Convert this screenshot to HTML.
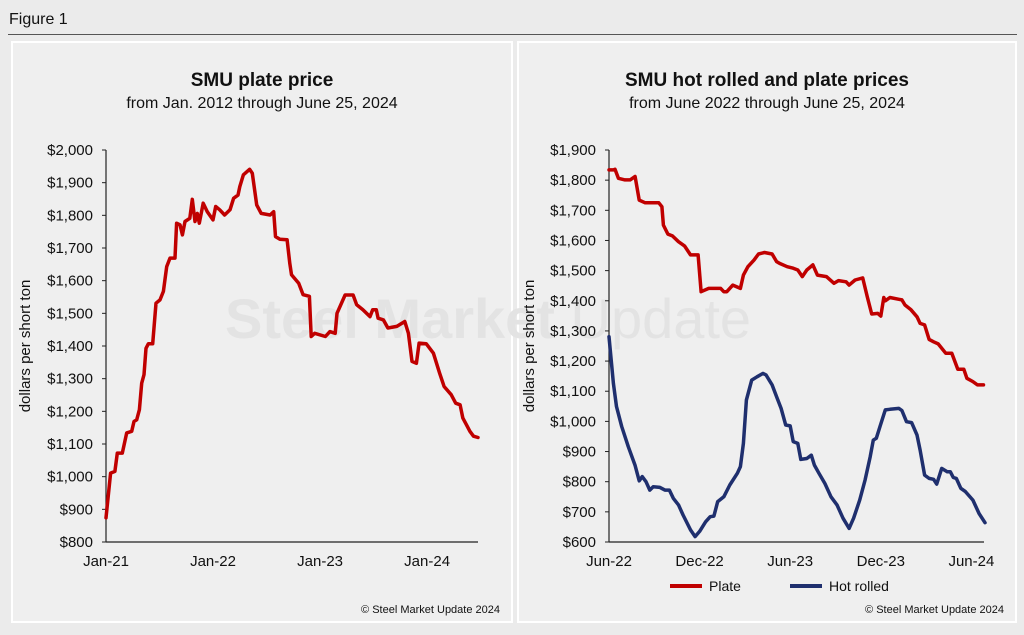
<!DOCTYPE html>
<html><head><meta charset="utf-8">
<style>
html,body{margin:0;padding:0;background:#ebebeb;}
body{width:1024px;height:630px;overflow:hidden;font-family:"Liberation Sans",Arial,sans-serif;}
svg text{font-family:"Liberation Sans",Arial,sans-serif;}
</style></head>
<body>
<svg id="fig" width="1024" height="630" viewBox="0 0 1024 630">
  <rect x="0" y="0" width="1024" height="630" fill="#ebebeb"/>
  <text x="9" y="24" font-size="16" fill="#111">Figure 1</text>
  <line x1="8" y1="34.5" x2="1017" y2="34.5" stroke="#555" stroke-width="1"/>
  <rect x="12" y="42" width="500" height="580" fill="#efefef" stroke="#fff" stroke-width="2"/>
  <rect x="518" y="42" width="498" height="580" fill="#efefef" stroke="#fff" stroke-width="2"/>
  <text x="225" y="338" font-size="56" font-weight="bold" fill="#e3e3e3">Steel Market <tspan font-weight="normal">Update</tspan></text>
  <text x="262" y="86" text-anchor="middle" font-size="19" font-weight="bold" fill="#111">SMU plate price</text>
  <text x="262" y="108" text-anchor="middle" font-size="16" fill="#111">from Jan. 2012 through June 25, 2024</text>
  <text x="767" y="86" text-anchor="middle" font-size="19" font-weight="bold" fill="#111">SMU hot rolled and plate prices</text>
  <text x="767" y="108" text-anchor="middle" font-size="16" fill="#111">from June 2022 through June 25, 2024</text>
  <text transform="translate(30,346) rotate(-90)" text-anchor="middle" font-size="15" fill="#111">dollars per short ton</text>
  <text transform="translate(534,346) rotate(-90)" text-anchor="middle" font-size="15" fill="#111">dollars per short ton</text>
  <text x="500" y="613" text-anchor="end" font-size="11" fill="#111">© Steel Market Update 2024</text>
  <text x="1004" y="613" text-anchor="end" font-size="11" fill="#111">© Steel Market Update 2024</text>
  <g>
    <line x1="670" y1="586" x2="702" y2="586" stroke="#c00000" stroke-width="4"/>
    <text x="709" y="591" font-size="14" fill="#111">Plate</text>
    <line x1="790" y1="586" x2="822" y2="586" stroke="#1f2f6e" stroke-width="4"/>
    <text x="829" y="591" font-size="14" fill="#111">Hot rolled</text>
  </g>
  <g id="left"></g>
  <g id="right"></g>
</svg>
<script>
// Left chart data (months since Jan-21, $/ton)
const leftMonths=[0,0.52,1.0,1.27,1.83,2.32,2.88,3.14,3.44,3.74,4.0,4.26,4.48,4.75,5.23,5.6,6.05,6.43,6.8,7.17,7.73,7.92,8.3,8.56,8.86,9.4,9.68,9.98,10.24,10.46,10.9,11.36,12.0,12.3,12.75,13.3,13.9,14.3,14.8,15.0,15.4,16.1,16.4,16.9,17.4,18.4,18.8,19.0,19.5,20.3,20.6,20.8,21.6,22.1,22.8,23.0,23.4,24.6,25.1,25.7,25.9,26.8,27.7,28.1,28.8,29.6,29.9,30.3,30.5,31.1,31.6,32.6,33.5,33.9,34.3,34.8,35.1,35.9,36.7,37.4,37.9,38.7,39.2,39.7,40.0,40.4,40.8,41.2,41.7];
const leftPlate=[874,1011,1016,1072,1072,1134,1139,1169,1174,1205,1286,1312,1393,1407,1407,1531,1541,1567,1643,1669,1669,1776,1771,1740,1781,1791,1849,1781,1806,1776,1837,1811,1786,1827,1817,1801,1817,1852,1862,1888,1924,1941,1929,1832,1806,1801,1811,1735,1727,1725,1653,1618,1592,1557,1552,1429,1439,1429,1444,1439,1500,1556,1556,1526,1511,1490,1511,1511,1485,1480,1455,1460,1475,1439,1353,1347,1409,1407,1378,1317,1276,1251,1225,1220,1180,1159,1139,1124,1120];
const leftYTicks=[800,900,1000,1100,1200,1300,1400,1500,1600,1700,1800,1900,2000];
const leftXLabels=["Jan-21","Jan-22","Jan-23","Jan-24"];
const leftXTickMonths=[0,12,24,36];
// Right chart data (months since Jun-22)
const plateMonths=[0,0.29,0.4,0.62,1.06,1.4,1.73,2.0,2.4,3.3,3.5,3.6,3.9,4.2,4.6,5.0,5.4,5.9,6.1,6.6,7.4,7.6,7.8,8.2,8.7,8.9,9.2,9.6,9.9,10.3,10.8,11.1,11.3,11.8,12.2,12.5,12.8,13.1,13.5,13.8,14.4,14.9,15.2,15.7,15.9,16.3,16.8,17.1,17.4,17.8,18.0,18.2,18.3,18.6,19.2,19.4,19.6,20.0,20.4,20.6,20.9,21.2,21.5,21.8,22.3,22.7,23.1,23.5,23.7,24.1,24.4,24.8];
const plateValues=[1834,1834,1836,1806,1801,1801,1812,1734,1725,1725,1712,1651,1621,1615,1596,1582,1552,1552,1430,1441,1441,1430,1430,1452,1441,1485,1513,1535,1555,1560,1555,1530,1524,1513,1508,1502,1480,1502,1519,1485,1480,1458,1467,1463,1452,1469,1476,1414,1356,1358,1349,1411,1400,1411,1405,1403,1386,1370,1347,1325,1320,1272,1264,1257,1226,1226,1173,1173,1143,1132,1121,1121];
const hrMonths=[0,0.29,0.5,0.84,1.28,1.72,2.0,2.2,2.45,2.7,2.93,3.37,3.7,4.0,4.26,4.6,4.9,5.4,5.7,6.0,6.4,6.7,6.95,7.2,7.6,8.0,8.5,8.7,8.9,9.1,9.45,9.8,10.2,10.4,10.8,11.1,11.4,11.7,12.0,12.2,12.5,12.7,13.1,13.4,13.6,13.9,14.3,14.7,15.1,15.5,15.9,16.2,16.6,16.96,17.3,17.5,17.7,17.95,18.3,18.6,19.2,19.4,19.7,20.04,20.4,20.6,20.9,21.2,21.5,21.7,22.03,22.4,22.6,22.8,23.0,23.3,23.6,24.1,24.5,24.9];
const hrValues=[1281,1126,1049,983,916,855,803,817,800,772,783,781,772,772,745,723,690,640,618,635,667,684,686,734,750,789,828,850,927,1071,1137,1148,1159,1154,1121,1082,1043,988,985,933,927,874,877,888,855,828,794,750,723,679,645,679,739,806,883,938,944,983,1038,1040,1043,1036,999,996,955,905,822,811,808,792,844,833,833,814,811,778,767,739,695,664];
const rightYTicks=[600,700,800,900,1000,1100,1200,1300,1400,1500,1600,1700,1800,1900];
const rightXLabels=["Jun-22","Dec-22","Jun-23","Dec-23","Jun-24"];
const rightXTickMonths=[0,6,12,18,24];

const NS="http://www.w3.org/2000/svg";
function mk(tag,attrs,parent){const e=document.createElementNS(NS,tag);for(const k in attrs)e.setAttribute(k,attrs[k]);parent.appendChild(e);return e;}
function fmt(v){return "$"+v.toLocaleString("en-US");}

function drawChart(g,cfg){
  const x=m=>cfg.x0+m*cfg.pxPerMonth;
  const y=v=>cfg.yBot-(v-cfg.vMin)/(cfg.vMax-cfg.vMin)*(cfg.yBot-cfg.yTop);
  const yAxis=mk("line",{x1:cfg.x0,y1:cfg.yTop,x2:cfg.x0,y2:cfg.yBot,stroke:"#222","stroke-width":1.2},g);
  
  
  const xAxis=mk("line",{x1:cfg.x0,y1:cfg.yBot,x2:cfg.xEnd,y2:cfg.yBot,stroke:"#222","stroke-width":1.2},g);
  
  
  cfg.yTicks.forEach(v=>{
    mk("line",{x1:cfg.x0-4,y1:y(v),x2:cfg.x0,y2:y(v),stroke:"#222","stroke-width":1},g);
    const t=mk("text",{x:cfg.x0-13,y:y(v)+5,"text-anchor":"end","font-size":15,fill:"#111"},g);
    t.textContent=fmt(v);
    
    
  });
  cfg.xLabels.forEach((lab,i)=>{
    const t=mk("text",{x:x(cfg.xTickMonths[i]),y:cfg.yBot+24,"text-anchor":"middle","font-size":15,fill:"#111"},g);
    t.textContent=lab;
    
    
  });
  cfg.series.forEach(s=>{
    const d=s.months.map((m,i)=>(i?"L":"M")+x(m).toFixed(1)+","+y(s.values[i]).toFixed(1)).join("");
    const p=mk("path",{d:d,fill:"none",stroke:s.color,"stroke-width":3.5,"stroke-linejoin":"round","stroke-linecap":"round"},g);
    
    
  });
}
drawChart(document.getElementById("left"),{x0:106,xEnd:478,pxPerMonth:8.92,yTop:150,yBot:542,vMin:800,vMax:2000,
  yTicks:leftYTicks,xLabels:leftXLabels,xTickMonths:leftXTickMonths,
  series:[{months:leftMonths,values:leftPlate,color:"#c00000",name:"plate-price-line"}]});
drawChart(document.getElementById("right"),{x0:609,xEnd:984,pxPerMonth:15.1,yTop:150,yBot:542,vMin:600,vMax:1900,
  yTicks:rightYTicks,xLabels:rightXLabels,xTickMonths:rightXTickMonths,
  series:[{months:plateMonths,values:plateValues,color:"#c00000",name:"plate-line"},
          {months:hrMonths,values:hrValues,color:"#1f2f6e",name:"hot-rolled-line"}]});
</script>
</body></html>
